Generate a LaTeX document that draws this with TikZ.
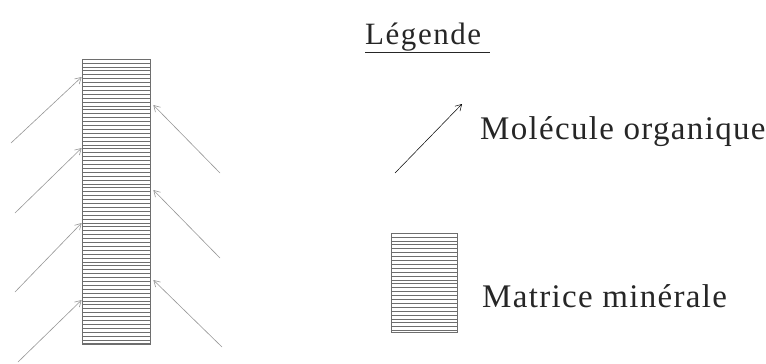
\documentclass[tikz,border=0pt]{standalone}
\usepackage{fontspec}
\setmainfont{Liberation Serif}
\usetikzlibrary{arrows.meta, positioning}
\definecolor{grisfleche}{RGB}{150,150,150}
\definecolor{grishachure}{RGB}{110,110,110}

\begin{document}
\begin{tikzpicture}[x=1pt, y=-1pt,
  hachure/.style={rectangle, draw=grishachure, inner sep=0pt, line width=0.7pt,
    path picture={
      \foreach \k in {0,...,90}
        \draw[grishachure, line width=0.6pt]
          ([yshift=-\k*3.9pt]path picture bounding box.north west) --
          ([yshift=-\k*3.9pt]path picture bounding box.north east);
    }},
  fleche/.style={-{Straight Barb[length=6pt, width=7pt]}, grisfleche, line width=0.6pt},
  txt/.style={font=\fontsize{33}{38}\selectfont\addfontfeatures{LetterSpace=4}, text=black!85, inner sep=0pt, anchor=base west}
]
\useasboundingbox (0,0) rectangle (766,364);

% matrice et molecules
\node[hachure, minimum width=68pt, minimum height=285pt] (matrice) at (116,201.5) {};
\foreach \ty/\sx/\sy [count=\i] in {77/11/143, 148/15/213, 223/15/292, 300/18/362} {
  \coordinate (gq\i) at (\sx,\sy);
  \coordinate (gp\i) at (matrice.west |- 0,\ty);
  \draw[fleche] (gq\i) -- (gp\i);
}
\foreach \ty/\sx/\sy [count=\i] in {105/220/173, 190/220/258, 280/222/347} {
  \coordinate (dq\i) at (\sx,\sy);
  \coordinate (dp\i) at ([xshift=3pt]matrice.east |- 0,\ty);
  \draw[fleche] (dq\i) -- (dp\i);
}

% legende
\node[font=\fontsize{31}{36}\selectfont\addfontfeatures{LetterSpace=5}, text=black!85, inner sep=0pt, anchor=base west] (titre) at (365,44) {\underline{Légende\hspace{9pt}}};
\coordinate (lq) at (395,173);
\coordinate (lp) at (462,104);
\draw[-{Straight Barb[length=6pt, width=7pt]}, black, line width=0.5pt] (lq) -- (lp);
\node[txt] (molecule) at (480,139) {Molécule organique};
\node[hachure, minimum width=66pt, minimum height=99pt] (echantillon) at (424,282.5) {};
\node[txt] (mineral) at (482,307) {Matrice minérale};
\end{tikzpicture}
\end{document}
